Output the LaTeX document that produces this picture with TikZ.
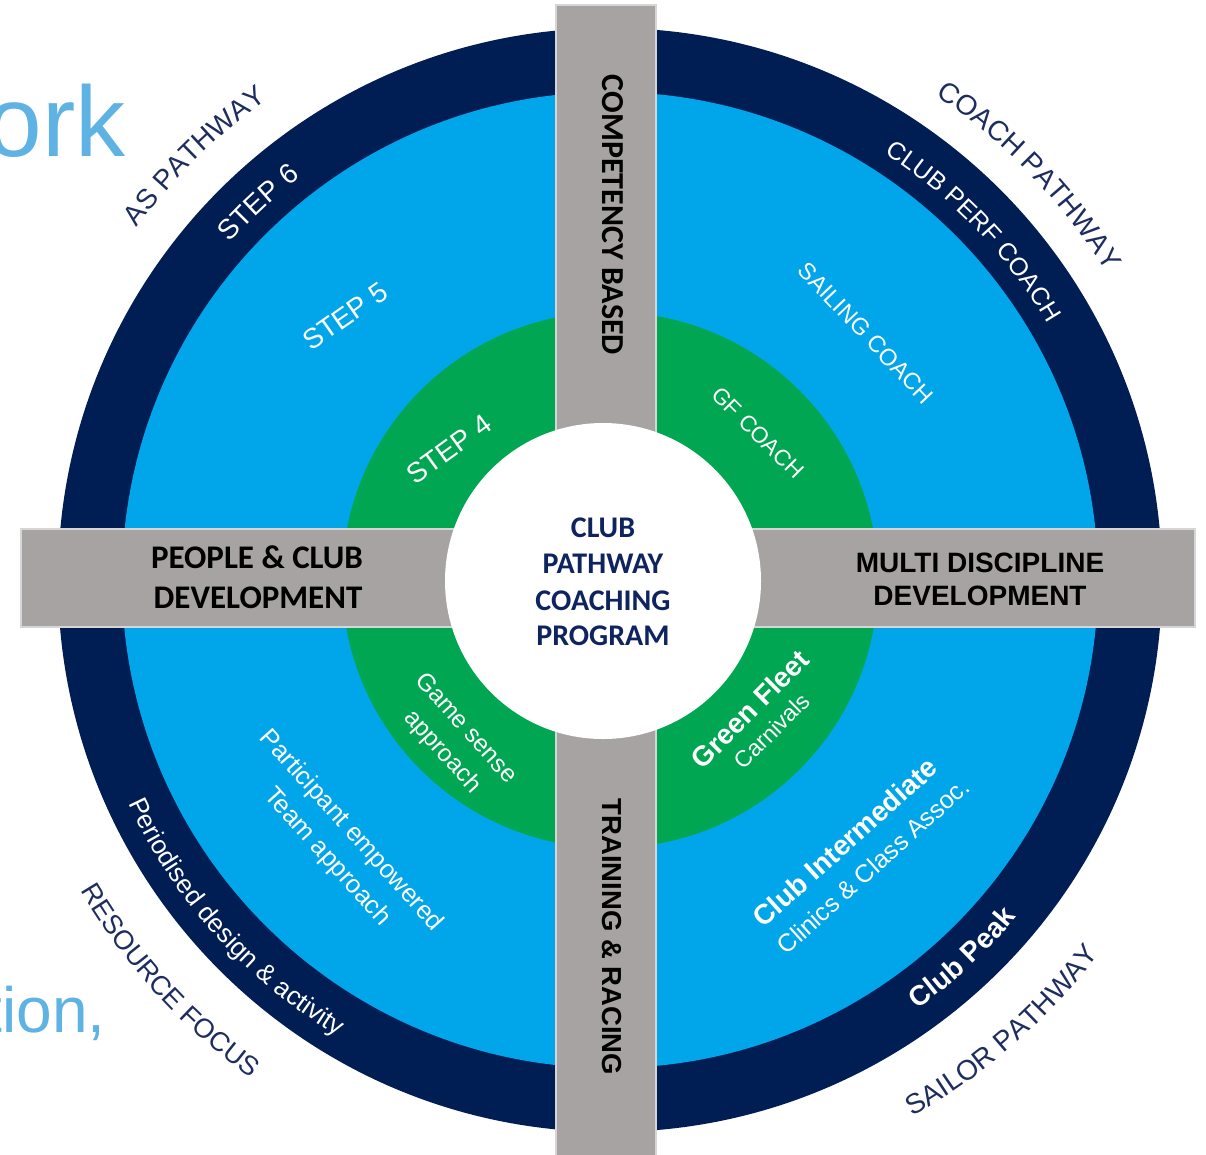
\documentclass[tikz,border=0pt]{standalone}
\usepackage{fontspec}
\setmainfont{Liberation Sans}
\newfontfamily\calibri{Carlito}
\usetikzlibrary{decorations.text}
\definecolor{navy}{RGB}{0,30,84}
\definecolor{sky}{RGB}{0,166,233}
\definecolor{leaf}{RGB}{0,166,81}
\definecolor{bargray}{RGB}{166,163,162}
\definecolor{barline}{RGB}{214,214,214}
\definecolor{navytext}{RGB}{30,45,95}
\definecolor{titleblue}{RGB}{95,178,228}
\definecolor{centertext}{RGB}{15,35,95}
\newcommand{\myfs}[1]{\fontsize{#1}{#1}\selectfont}
\tikzset{
  barbox/.style={fill=bargray, draw=barline, line width=1.2pt},
  ringtxt/.style={text=white, inner sep=0pt},
  lbl/.style={anchor=base, inner sep=0pt, text=black},
  ctr/.style={anchor=base, inner sep=0pt, text=centertext, font=\calibri\bfseries\myfs{30}},
  arctxt/.style={decorate, decoration={text along path, text align=center, text={#1}}}
}
\begin{document}
\begin{tikzpicture}[x=1pt,y=1pt]
\useasboundingbox (0,0) rectangle (1206,-1154);
\clip (0,0) rectangle (1206,-1154);
\fill[white] (0,0) rectangle (1206,-1154);

% background slide fragments
\node[anchor=base east, inner sep=0pt, text=titleblue, font=\myfs{100}] (ork) at (126,-156) {ork};
\node[anchor=base east, inner sep=0pt, text=titleblue, font=\myfs{64}] (tion) at (106,-1032) {tion,};

% rings
\coordinate (c) at (610,-580);
\fill[navy] (c) circle[radius=552];
\fill[sky] (c) circle[radius=488];
\fill[leaf] (c) circle[radius=268];

% bars
\filldraw[barbox] (556,-5) rectangle (656,-1170);
\filldraw[barbox] (21,-529) rectangle (1195,-627);

% centre disc
\fill[white] (603,-581) circle[radius=158];

% centre text
\node[ctr] (c1) at (603,-537) {CLUB};
\node[ctr] (c2) at (603,-573) {PATHWAY};
\node[ctr] (c3) at (603,-610) {COACHING};
\node[ctr] (c4) at (603,-645) {PROGRAM};

% bar labels
\node[lbl, font=\calibri\bfseries\myfs{33}] (p1) at (257,-568) {PEOPLE \& CLUB};
\node[lbl, font=\calibri\bfseries\myfs{33}] (p2) at (258,-608) {DEVELOPMENT};
\node[lbl, font=\bfseries\myfs{28}] (m1) at (980,-572) {MULTI DISCIPLINE};
\node[lbl, font=\bfseries\myfs{28}] (m2) at (980,-605) {DEVELOPMENT};
\node[lbl, rotate=-90, font=\calibri\bfseries\myfs{32}] (comp) at (602,-215) {COMPETENCY BASED};
\node[lbl, rotate=-90, font=\bfseries\myfs{27.5}] (train) at (602,-937) {TRAINING \& RACING};

% straight ring labels
\node[ringtxt, rotate=35, font=\myfs{28}] (s5) at (345,-316) {STEP 5};
\node[ringtxt, rotate=36, font=\myfs{28}] (s4) at (449,-449) {STEP 4};
\node[ringtxt, rotate=-46.5, font=\myfs{23.5}] (sail) at (866,-333) {SAILING COACH};
\node[ringtxt, rotate=-45, font=\myfs{22.5}] (gf) at (758,-433) {GF COACH};
\node[ringtxt, rotate=-48, font=\myfs{24.5}] (game1) at (467,-727) {Game sense};
\node[ringtxt, rotate=-48, font=\myfs{24.5}] (game2) at (442,-752) {approach};
\node[ringtxt, rotate=-48, font=\myfs{25.5}] (part1) at (351,-831) {Participant empowered};
\node[ringtxt, rotate=-48, font=\myfs{25.5}] (part2) at (327,-857) {Team approach};
\node[ringtxt, rotate=45, font=\bfseries\myfs{28}] (green1) at (750,-709) {Green Fleet};
\node[ringtxt, rotate=45, font=\myfs{23}] (green2) at (772,-731) {Carnivals};
\node[ringtxt, rotate=42, font=\bfseries\myfs{28}] (inter1) at (845,-842) {Club Intermediate};
\node[ringtxt, rotate=42, font=\myfs{25}] (inter2) at (873,-866) {Clinics \& Class Assoc.};

% curved labels
\begin{scope}[shift={(610,-580)}]
\path[arctxt={|\color{navytext}\myfs{28}|AS PATHWAY}] (164.4:590) arc[start angle=164.4, end angle=104.4, radius=590];
\path[arctxt={|\color{white}\myfs{28}|STEP 6}] (163:508) arc[start angle=163, end angle=103, radius=508];
\path[arctxt={|\color{white}\myfs{25}|CLUB PERF COACH}] (73.8:507) arc[start angle=73.8, end angle=13.8, radius=507];
\path[arctxt={|\color{navytext}\myfs{28}|COACH PATHWAY}] (74:584) arc[start angle=74, end angle=14, radius=584];
\path[arctxt={|\color{white}\myfs{26}|Periodised design {\&} activity}] (192:531) arc[start angle=192, end angle=252, radius=531];
\path[arctxt={|\color{navytext}\myfs{27}|RESOURCE FOCUS}] (192.3:614) arc[start angle=192.3, end angle=252.3, radius=614];
\path[arctxt={|\color{white}\bfseries\myfs{28}|Club Peak}] (283:528) arc[start angle=283, end angle=343, radius=528];
\path[arctxt={|\color{navytext}\myfs{28}|SAILOR PATHWAY}] (281:616) arc[start angle=281, end angle=341, radius=616];
\end{scope}
\end{tikzpicture}
\end{document}
